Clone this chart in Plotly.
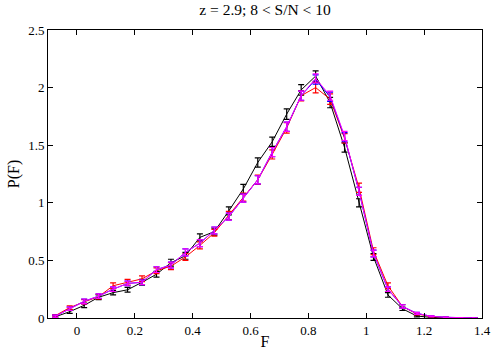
import plotly.graph_objects as go

F = [-0.075, -0.025, 0.025, 0.075, 0.125, 0.175, 0.225, 0.275, 0.325, 0.375,
     0.425, 0.475, 0.525, 0.575, 0.625, 0.675, 0.725, 0.775, 0.825, 0.875,
     0.925, 0.975, 1.025, 1.075, 1.125, 1.175, 1.225, 1.275, 1.325, 1.375]

p_black = [0.01, 0.055, 0.11, 0.18, 0.22, 0.245, 0.31, 0.38, 0.48, 0.54,
           0.70, 0.75, 0.93, 1.12, 1.35, 1.53, 1.77, 1.98, 2.10, 1.87,
           1.48, 1.00, 0.53, 0.20, 0.08, 0.017, 0.005, 0.002, 0.001, 0.0]
e_black = [0.01, 0.015, 0.02, 0.02, 0.02, 0.02, 0.025, 0.025, 0.03, 0.03,
           0.03, 0.03, 0.035, 0.04, 0.04, 0.04, 0.045, 0.045, 0.045, 0.045,
           0.04, 0.035, 0.03, 0.02, 0.015, 0.008, 0.004, 0.002, 0.001, 0.001]

p_red = [0.02, 0.09, 0.14, 0.185, 0.28, 0.31, 0.34, 0.41, 0.45, 0.53,
         0.63, 0.74, 0.89, 1.05, 1.20, 1.42, 1.65, 1.93, 2.00, 1.90,
         1.56, 1.13, 0.58, 0.28, 0.10, 0.035, 0.012, 0.005, 0.002, 0.001]
e_red = [0.01, 0.015, 0.02, 0.02, 0.025, 0.025, 0.025, 0.025, 0.03, 0.03,
         0.03, 0.03, 0.035, 0.035, 0.04, 0.04, 0.045, 0.045, 0.045, 0.045,
         0.04, 0.04, 0.03, 0.025, 0.015, 0.008, 0.004, 0.002, 0.001, 0.001]

p_blue = [0.015, 0.08, 0.145, 0.19, 0.25, 0.30, 0.31, 0.42, 0.46, 0.57,
          0.65, 0.76, 0.88, 1.04, 1.20, 1.44, 1.66, 1.93, 2.07, 1.92,
          1.57, 1.10, 0.56, 0.25, 0.10, 0.04, 0.015, 0.006, 0.003, 0.001]
e_blue = [0.01, 0.015, 0.02, 0.02, 0.02, 0.02, 0.02, 0.025, 0.025, 0.03,
          0.03, 0.03, 0.03, 0.035, 0.035, 0.04, 0.04, 0.04, 0.04, 0.04,
          0.04, 0.035, 0.03, 0.02, 0.015, 0.008, 0.004, 0.002, 0.001, 0.001]

p_magenta = [0.015, 0.08, 0.145, 0.19, 0.25, 0.30, 0.31, 0.42, 0.46, 0.57,
             0.65, 0.76, 0.88, 1.04, 1.20, 1.44, 1.66, 1.93, 2.08, 1.93,
             1.58, 1.10, 0.56, 0.25, 0.10, 0.04, 0.015, 0.006, 0.003, 0.001]
e_magenta = e_blue

series = [
    ("black", p_black, e_black, "#000000"),
    ("red", p_red, e_red, "#ff0000"),
    ("blue", p_blue, e_blue, "#0000ff"),
    ("magenta", p_magenta, e_magenta, "#ff00ff"),
]

fig = go.Figure()
for name, y, e, c in series:
    fig.add_trace(go.Scatter(
        x=F, y=y, mode="lines", name=name,
        line=dict(color=c, width=1),
        error_y=dict(type="data", array=e, visible=True, color=c, thickness=1.2, width=3),
        showlegend=False,
    ))

fam = "Liberation Serif, Times New Roman, serif"
font = dict(family=fam, size=13, color="black")
axis_common = dict(
    showgrid=False, zeroline=False, showline=True, linecolor="black", linewidth=1,
    mirror="ticks", ticks="inside", ticklen=5, tickcolor="black",
    tickfont=font, automargin=False,
)
fig.update_layout(
    width=500, height=350,
    margin=dict(l=48, r=18, t=30, b=32, autoexpand=False),
    paper_bgcolor="white", plot_bgcolor="white",
    font=font,
    title=dict(text="z = 2.9; 8 < S/N < 10", x=0.5, xref="paper", xanchor="center",
               y=0.972, yanchor="middle", font=dict(family=fam, size=15.5)),
    xaxis=dict(range=[-0.1, 1.4], tickvals=[0, 0.2, 0.4, 0.6, 0.8, 1.0, 1.2, 1.4],
               ticktext=["0", "0.2", "0.4", "0.6", "0.8", "1", "1.2", "1.4"],
               title=dict(text="F", standoff=0, font=dict(family=fam, size=16)),
               **axis_common),
    yaxis=dict(range=[0, 2.5], tickvals=[0, 0.5, 1, 1.5, 2, 2.5],
               ticktext=["0", "0.5", "1", "1.5", "2", "2.5"],
               title=dict(text="P(F)", standoff=4, font=dict(family=fam, size=16)),
               **axis_common),
)
fig.write_html("out.html", config={"displayModeBar": False},
               post_script="document.body.style.margin='0';")
